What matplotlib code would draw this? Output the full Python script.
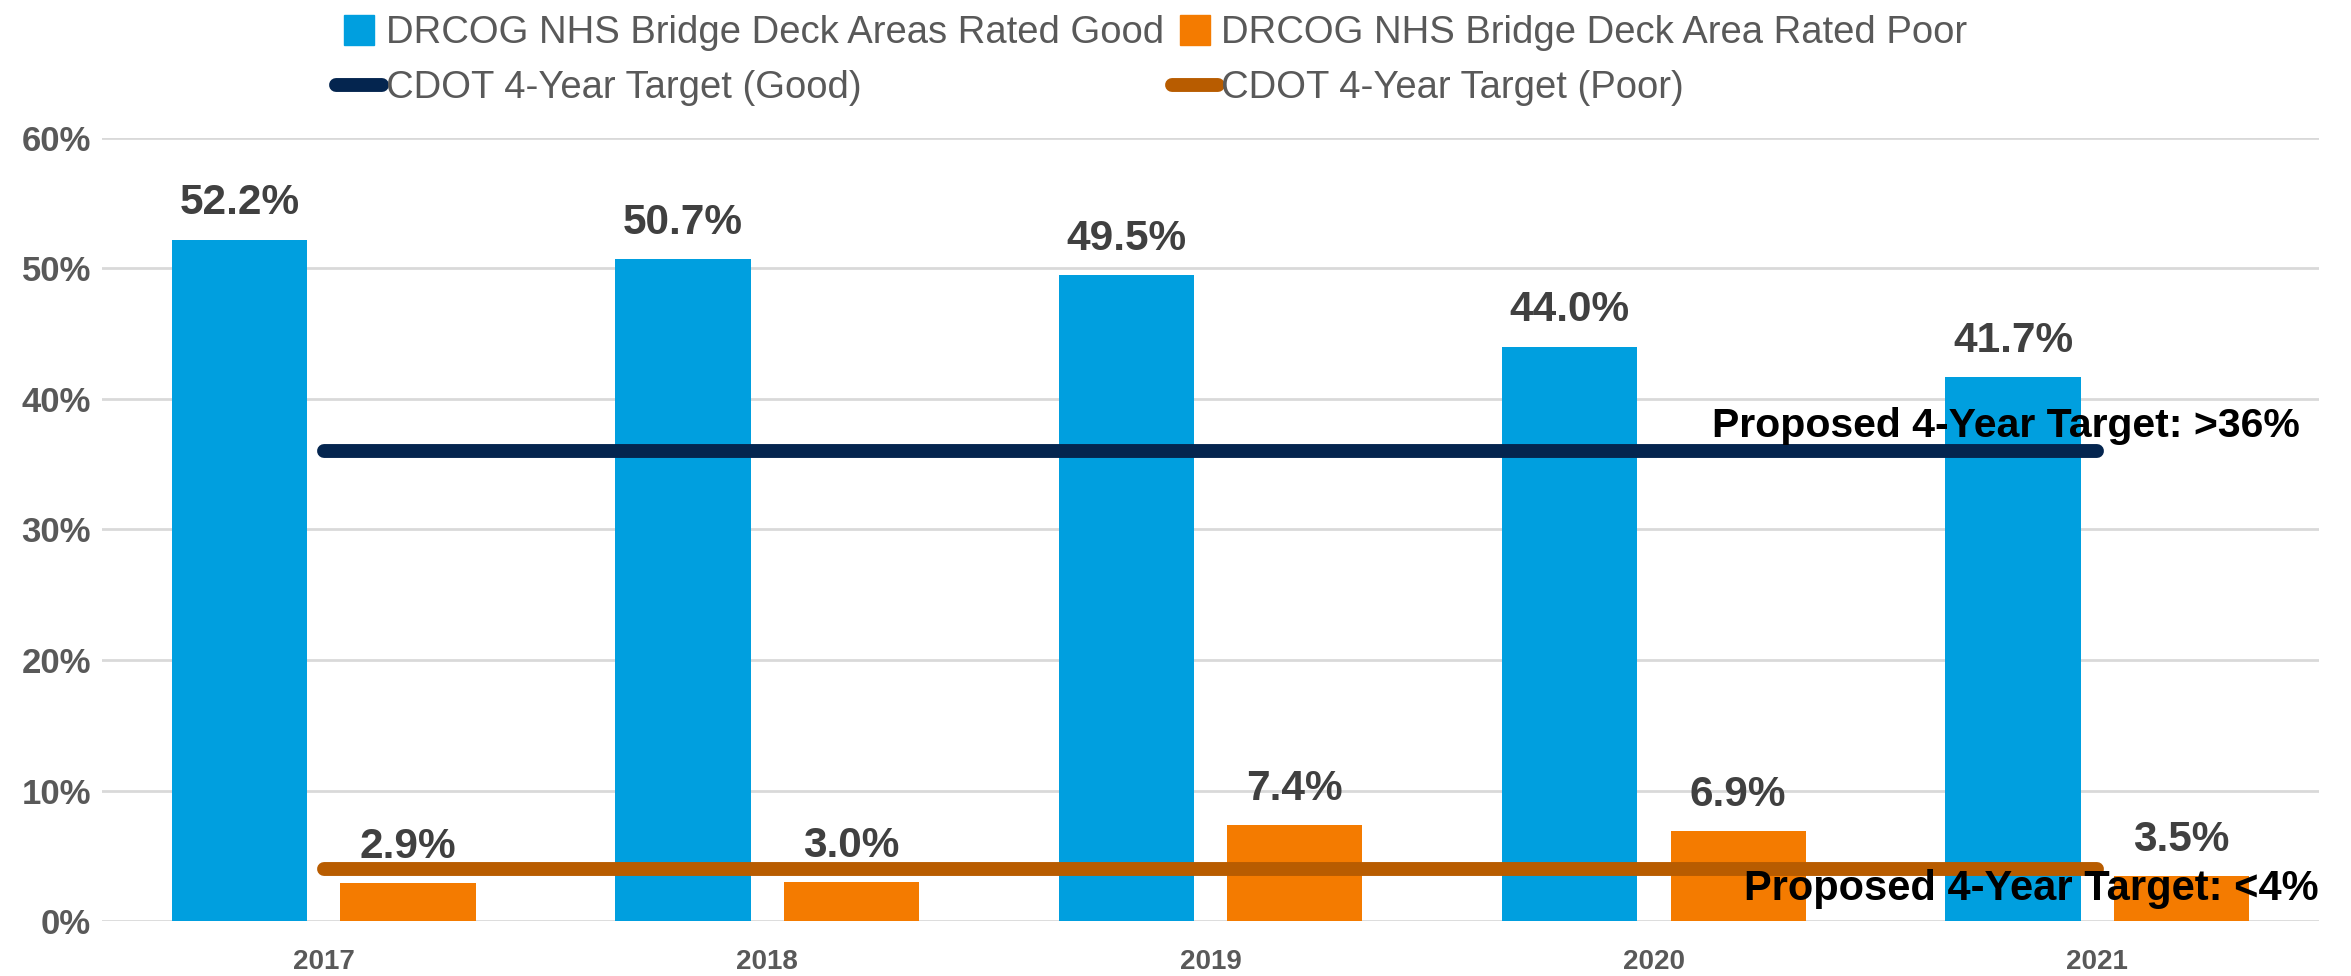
import matplotlib
matplotlib.use("Agg")
import matplotlib.pyplot as plt
from matplotlib.lines import Line2D
from matplotlib.ticker import PercentFormatter
import numpy as np

years = ["2017", "2018", "2019", "2020", "2021"]
good = [52.2, 50.7, 49.5, 44.0, 41.7]
poor = [2.9, 3.0, 7.4, 6.9, 3.5]
target_good = 36.0
target_poor = 4.0

label_good = "DRCOG NHS Bridge Deck Areas Rated Good"
label_poor = "DRCOG NHS Bridge Deck Area Rated Poor"
label_tgood = "CDOT 4-Year Target (Good)"
label_tpoor = "CDOT 4-Year Target (Poor)"

BLUE = "#009FDF"
ORANGE = "#F47B00"
NAVY = "#04254F"
BROWN = "#B85C00"
GREY = "#595959"
DARK = "#404040"

plt.rcParams["font.family"] = ["Liberation Sans", "DejaVu Sans"]

fig = plt.figure(figsize=(23.51, 9.76), dpi=100)
ax = fig.add_axes([0.0434, 0.056, 0.943, 0.803])

x = np.arange(len(years))
w = 0.305
off = 0.19

bg = ax.bar(x - off, good, width=w, color=BLUE, zorder=2)
bp = ax.bar(x + off, poor, width=w, color=ORANGE, zorder=2)

# data labels, drawn under the target lines
for bars, vals in ((bg, good), (bp, poor)):
    for b, v in zip(bars, vals):
        ax.annotate(f"{v:.1f}%", (b.get_x() + b.get_width() / 2, v),
                    xytext=(0, 26), textcoords="offset points",
                    ha="center", va="center", fontsize=30.5,
                    fontweight="bold", color=DARK, zorder=3)

ax.plot([x[0], x[-1]], [target_good] * 2, color=NAVY, lw=10,
        solid_capstyle="round", zorder=4)
ax.plot([x[0], x[-1]], [target_poor] * 2, color=BROWN, lw=10,
        solid_capstyle="round", zorder=4)

ax.annotate(f"Proposed 4-Year Target: >{target_good:.0f}%", (4.457, target_good),
            xytext=(0, 18), textcoords="offset points", ha="right", va="center",
            fontsize=29.5, fontweight="bold", color="black", zorder=5)
ax.annotate(f"Proposed 4-Year Target: <{target_poor:.0f}%", (4.498, target_poor),
            xytext=(0, -14), textcoords="offset points", ha="right", va="center",
            fontsize=30, fontweight="bold", color="black", zorder=5)

ax.set_xlim(-0.5, len(years) - 0.5)
ax.set_ylim(0, 60)
ax.set_yticks(np.arange(0, 61, 10))
ax.yaxis.set_major_formatter(PercentFormatter(decimals=0))
ax.set_xticks(x)
ax.set_xticklabels(years)
ax.grid(axis="y", color="#D9D9D9", lw=2, zorder=0)
ax.set_axisbelow(True)
for s in ax.spines.values():
    s.set_visible(False)
ax.tick_params(axis="both", length=0)
ax.tick_params(axis="y", labelsize=25, labelcolor=GREY, pad=8)
ax.tick_params(axis="x", labelsize=20, labelcolor=GREY, pad=20)
for t in ax.get_xticklabels() + ax.get_yticklabels():
    t.set_fontweight("bold")

handles = [
    Line2D([], [], marker="s", linestyle="none", markersize=22, color=BLUE),
    Line2D([], [], color=NAVY, lw=10, solid_capstyle="round"),
    Line2D([], [], marker="s", linestyle="none", markersize=22, color=ORANGE),
    Line2D([], [], color=BROWN, lw=10, solid_capstyle="round"),
]
labels = [label_good, label_tgood, label_poor, label_tpoor]
fig.legend(handles, labels, loc="upper center", bbox_to_anchor=(0.49, 1.012),
           ncol=2, frameon=False, fontsize=27.5, labelcolor=GREY,
           handlelength=1.2, handletextpad=0.1, columnspacing=0.2,
           labelspacing=0.5, borderpad=0.2)

fig.savefig("out.png", dpi=100)
